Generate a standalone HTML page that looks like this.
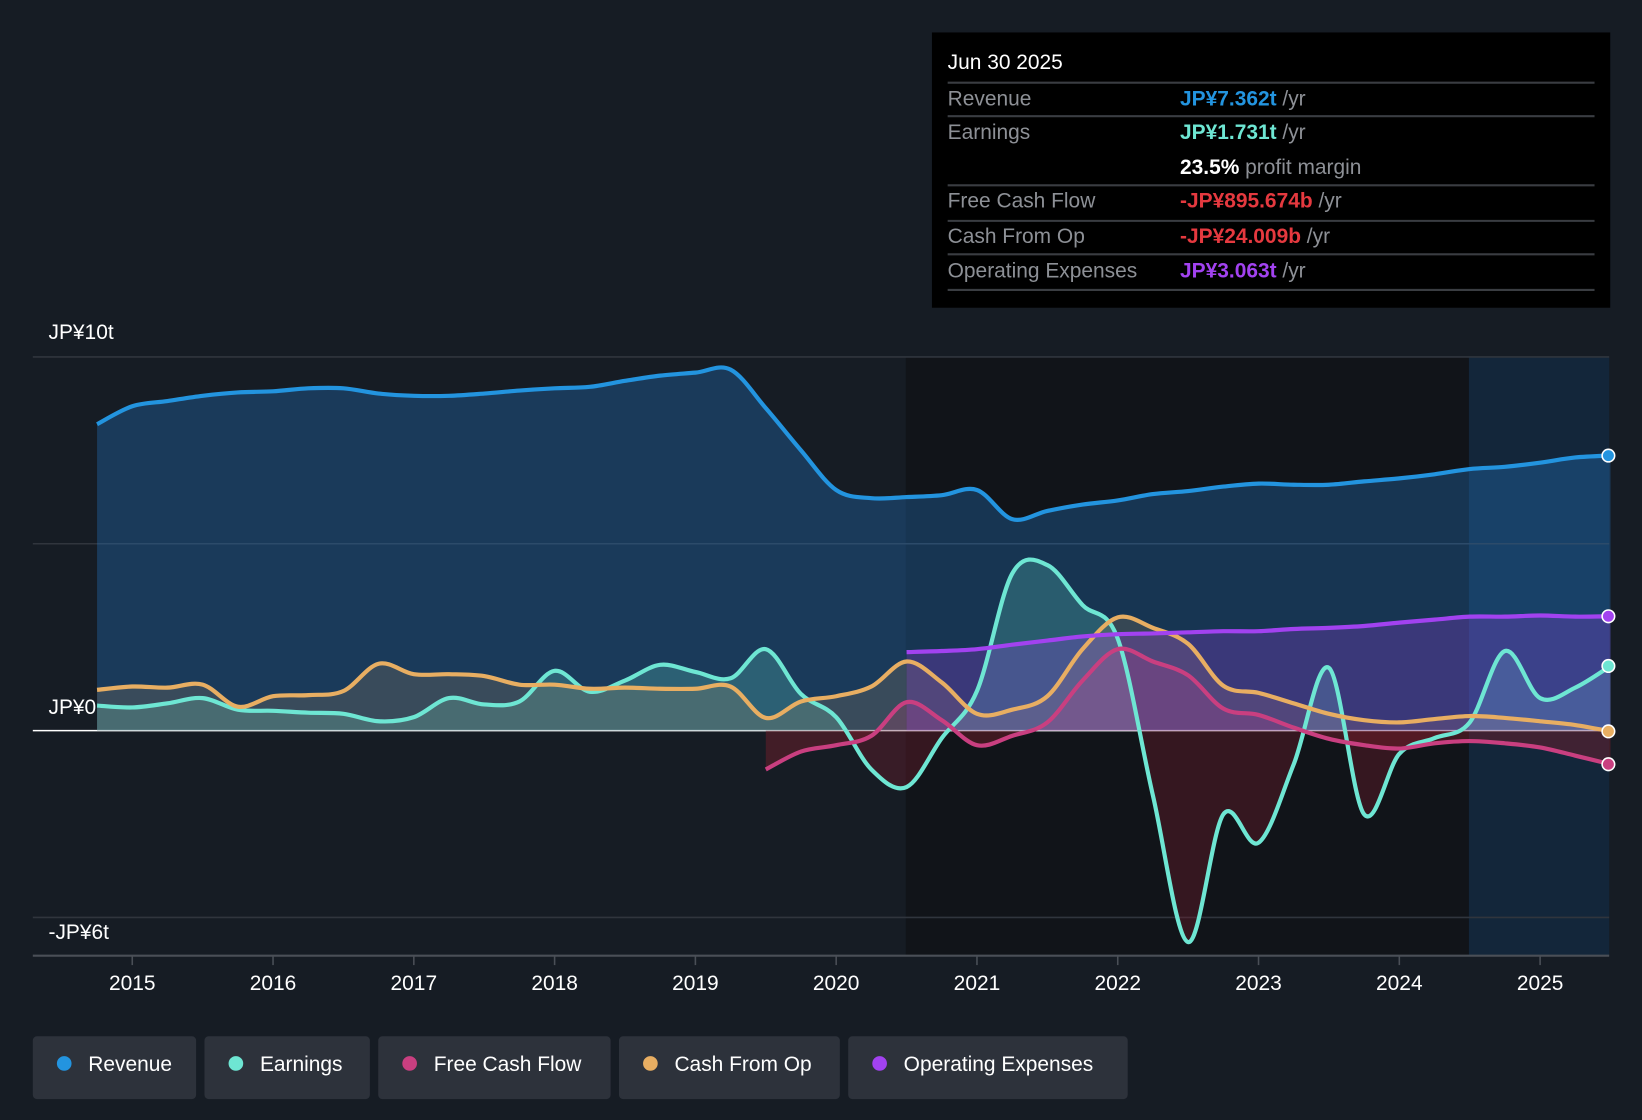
<!DOCTYPE html>
<html><head><meta charset="utf-8"><style>
html,body{margin:0;padding:0;background:#161c24;}
svg{display:block;font-family:"Liberation Sans",sans-serif;}
</style></head><body>
<svg id="chart" width="1642" height="1120" viewBox="0 0 1568 1070" xmlns="http://www.w3.org/2000/svg">
<defs>
<clipPath id="above"><rect x="0" y="0" width="1568" height="698"/></clipPath>
<clipPath id="below"><rect x="0" y="698" width="1568" height="400"/></clipPath>
</defs>
<rect x="0" y="0" width="1568" height="1070" fill="#161c24"/>
<rect x="865" y="341" width="538" height="572" fill="#111419"/>
<rect x="1403" y="341" width="134" height="572" fill="#13263a"/>
<g id="grid"></g>
<g id="series"></g>
<g id="axes"></g>
<g>
<rect x="890" y="31" width="648" height="263" fill="#000"/>
<text x="905" y="66" fill="#fff" font-size="20">Jun 30 2025</text>
<g stroke="#3a3d42" stroke-width="2"><line x1="905" y1="79" x2="1523" y2="79"/><line x1="905" y1="111" x2="1523" y2="111"/><line x1="905" y1="177" x2="1523" y2="177"/><line x1="905" y1="211" x2="1523" y2="211"/><line x1="905" y1="243" x2="1523" y2="243"/><line x1="905" y1="277" x2="1523" y2="277"/></g>
<g font-size="20" fill="#8d9096">
<text x="905" y="101">Revenue</text><text x="905" y="133">Earnings</text><text x="905" y="198">Free Cash Flow</text><text x="905" y="232">Cash From Op</text><text x="905" y="265">Operating Expenses</text>
</g>
<g font-size="20" font-weight="bold">
<text x="1127" y="101" fill="#2394df">JP¥7.362t <tspan fill="#8d9096" font-weight="normal">/yr</tspan></text>
<text x="1127" y="133" fill="#6ee6d3">JP¥1.731t <tspan fill="#8d9096" font-weight="normal">/yr</tspan></text>
<text x="1127" y="166" fill="#fff">23.5% <tspan fill="#8d9096" font-weight="normal">profit margin</tspan></text>
<text x="1127" y="198" fill="#e5393f">-JP¥895.674b <tspan fill="#8d9096" font-weight="normal">/yr</tspan></text>
<text x="1127" y="232" fill="#e5393f">-JP¥24.009b <tspan fill="#8d9096" font-weight="normal">/yr</tspan></text>
<text x="1127" y="265" fill="#a242f0">JP¥3.063t <tspan fill="#8d9096" font-weight="normal">/yr</tspan></text>
</g>
</g>
<g id="legend"></g>
</svg>
<script>
const startYear = 2014.75;
const revenue = [8.2,8.68,8.82,8.96,9.05,9.08,9.16,9.16,9.02,8.96,8.96,9.02,9.1,9.16,9.2,9.36,9.5,9.58,9.66,8.63,7.5,6.44,6.22,6.25,6.3,6.44,5.66,5.88,6.05,6.16,6.33,6.41,6.53,6.61,6.58,6.58,6.67,6.75,6.86,7.0,7.06,7.17,7.31,7.36];
const earnings = [0.67,0.62,0.73,0.87,0.56,0.53,0.48,0.45,0.25,0.36,0.87,0.7,0.78,1.6,1.04,1.34,1.76,1.57,1.4,2.18,0.98,0.36,-1.04,-1.51,-0.2,1.06,4.2,4.43,3.36,2.46,-1.74,-5.66,-2.24,-3.0,-0.9,1.68,-2.24,-0.62,-0.2,0.22,2.13,0.87,1.15,1.73];
const cashFromOp = [1.09,1.18,1.15,1.23,0.64,0.92,0.95,1.06,1.79,1.51,1.51,1.46,1.23,1.23,1.12,1.15,1.12,1.12,1.18,0.34,0.78,0.92,1.18,1.85,1.29,0.45,0.56,0.92,2.18,3.03,2.75,2.32,1.2,1.01,0.73,0.45,0.28,0.22,0.31,0.39,0.34,0.25,0.15,-0.02];
const fcfStart = 2019.5;
const freeCashFlow = [-1.04,-0.56,-0.39,-0.14,0.76,0.28,-0.39,-0.14,0.22,1.34,2.18,1.85,1.48,0.59,0.42,0.08,-0.22,-0.39,-0.48,-0.34,-0.28,-0.34,-0.45,-0.67,-0.9];
const opexStart = 2020.5;
const opex = [2.1,2.13,2.18,2.3,2.41,2.52,2.58,2.6,2.63,2.66,2.66,2.72,2.75,2.8,2.89,2.97,3.05,3.05,3.08,3.05,3.06];
const yearTicks = [2015,2016,2017,2018,2019,2020,2021,2022,2023,2024,2025];
const yLabels = [{v:10,t:"JP¥10t"},{v:0,t:"JP¥0"},{v:-6,t:"-JP¥6t"}];
const gridVals = [10,5,0,-5];
const legendNames = ["Revenue","Earnings","Free Cash Flow","Cash From Op","Operating Expenses"];

const NS="http://www.w3.org/2000/svg";
const X = yr => 126 + (yr-2015)*134.5;
const Y = v => 698 - v*35.7;
function mk(tag, attrs, parent){const e=document.createElementNS(NS,tag);for(const k in attrs)e.setAttribute(k,attrs[k]);parent.appendChild(e);return e;}
function pts(arr,start){return arr.map((v,i)=>[X(start+i*0.25),Y(v)]);}
function curve(p){let d=`M${p[0][0]},${p[0][1]}`;for(let i=0;i<p.length-1;i++){const p0=p[i-1]||p[i],p1=p[i],p2=p[i+1],p3=p[i+2]||p2;const c1=[p1[0]+(p2[0]-p0[0])/6,p1[1]+(p2[1]-p0[1])/6],c2=[p2[0]-(p3[0]-p1[0])/6,p2[1]-(p3[1]-p1[1])/6];d+=` C${c1[0]},${c1[1]} ${c2[0]},${c2[1]} ${p2[0]},${p2[1]}`;}return d;}

const grid=document.getElementById('grid');
gridVals.forEach(v=>{const l=mk('line',{x1:31,x2:1537,y1:Y(v),y2:Y(v),stroke:v===0?'#ffffff':'#30353d','stroke-width':1.5},grid);

});

const S=document.getElementById('series');
const defs=[
 {n:'revenue',d:revenue,s:startYear,c:'#2394df',f:'rgba(35,120,200,0.33)',fn:'rgba(35,120,200,0.33)'},
 {n:'earnings',d:earnings,s:startYear,c:'#6ee6d3',f:'rgba(110,230,211,0.22)',fn:'rgba(120,30,45,0.35)'},
 {n:'free-cash-flow',d:freeCashFlow,s:fcfStart,c:'#c93f80',f:'rgba(200,50,120,0.22)',fn:'rgba(120,30,45,0.45)'},
 {n:'cash-from-op',d:cashFromOp,s:startYear,c:'#e8ae62',f:'rgba(232,174,98,0.15)',fn:'rgba(120,30,45,0.3)'},
 {n:'operating-expenses',d:opex,s:opexStart,c:'#a242f0',f:'rgba(162,66,240,0.25)',fn:'rgba(162,66,240,0.25)'}
];
defs.forEach(o=>{const p=pts(o.d,o.s);const c=curve(p);
 const d=c+` L${p[p.length-1][0]},${Y(0)} L${p[0][0]},${Y(0)} Z`;
 const a=mk('path',{d:d,fill:o.f,'clip-path':'url(#above)'},S);
 
 
 const b=mk('path',{d:d,fill:o.fn,'clip-path':'url(#below)'},S);
 
 });
defs.forEach(o=>{const p=pts(o.d,o.s);
 const l=mk('path',{d:curve(p),fill:'none',stroke:o.c,'stroke-width':4,'stroke-linejoin':'round'},S);
 
 
 const e=p[p.length-1];
 const dot=mk('circle',{cx:e[0]-2,cy:e[1],r:6,fill:o.c,stroke:'#fff','stroke-width':1.5},S);
 
 });

const A=document.getElementById('axes');
mk('line',{x1:31,x2:1537,y1:913,y2:913,stroke:'#4a4f57','stroke-width':2},A);
yearTicks.forEach(y=>{mk('line',{x1:X(y),x2:X(y),y1:913,y2:922,stroke:'#4a4f57','stroke-width':1.5},A);
 const t=mk('text',{x:X(y),y:946,fill:'#fff','font-size':20,'text-anchor':'middle'},A);t.textContent=y;
 
 });
yLabels.forEach(o=>{const yy=o.v===10?324:o.v===0?682:897;
 const t=mk('text',{x:46,y:yy,fill:'#fff','font-size':20},A);t.textContent=o.t;
 
 });

const L=document.getElementById('legend');
const lx=[31,195,361,591,810], lw=[156,158,222,211,267];
legendNames.forEach((n,i)=>{const g=mk('g',{},L);
 
 
 mk('rect',{x:lx[i],y:990,width:lw[i],height:60,rx:4,fill:'#2d323b'},g);
 mk('circle',{cx:lx[i]+30,cy:1016,r:7,fill:defs[i].c},g);
 const t=mk('text',{x:lx[i]+53,y:1023,fill:'#fff','font-size':20},g);t.textContent=n;});
</script>
</body></html>
